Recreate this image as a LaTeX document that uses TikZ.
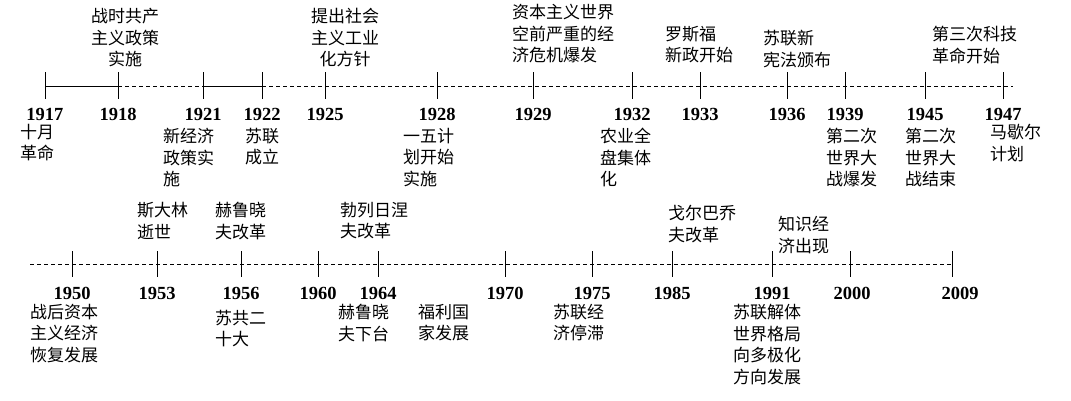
\documentclass[tikz,border=0pt]{standalone}
\usepackage{fontspec}
\setmainfont{Liberation Serif}
\newfontfamily\cjk{Noto Sans CJK SC}
\begin{document}
\begin{tikzpicture}[x=1pt,y=-1pt,
  yr/.style={font=\fontsize{18.5}{18}\selectfont\bfseries},
  lb/.style={font=\cjk\fontsize{17}{21.5}\selectfont,align=left,inner sep=0pt,anchor=north west},
  lbc/.style={font=\cjk\fontsize{17}{21.5}\selectfont,align=center,inner sep=0pt,anchor=north},
  tk/.style={line width=0.9pt},
  dsh/.style={dash pattern=on 4pt off 3pt,line width=0.8pt}]
\useasboundingbox (0,0) rectangle (1071,400);
% top axis
\foreach \n/\x in {a17/45,a18/118,a21/203,a22/262,a25/325,a28/437,a29/533,a32/632,a33/700,a36/787,a39/845,a45/925,a47/1003}{
  \coordinate (\n) at (\x,86);
  \draw[tk] (\x,72) -- (\x,99);}
\coordinate (aend) at (1013,86);
\draw[tk] (a17) -- (a18);
\draw[dsh] (a18) -- (a21);
\draw[tk] (a21) -- (a22);
\draw[dsh] (a22) -- (aend);
\foreach \x/\y in {45/1917,118/1918,203/1921,262/1922,325/1925,437/1928,533/1929,632/1932,700/1933,787/1936,845/1939,925/1945,1003/1947}
  \node[yr] (y\y) at (\x,114) {\y};
% bottom axis
\coordinate (bstart) at (30,264);
\foreach \n/\x in {b50/72,b53/157,b56/241,b60/318,b64/378,b70/505,b75/592,b85/672,b91/772,b00/850,b09/952}{
  \coordinate (\n) at (\x,264);
  \draw[tk] (\x,251) -- (\x,277);}
\draw[dsh] (bstart) -- (b09);
\foreach \x/\y in {72/1950,157/1953,241/1956,318/1960,378/1964,505/1970,592/1975,672/1985,772/1991,852/2000,960/2009}
  \node[yr] (z\y) at (\x,293) {\y};
% top labels above
\node[lbc] (t1) at (125,8) {战时共产\\主义政策\\实施};
\node[lbc] (t2) at (345,8) {提出社会\\主义工业\\化方针};
\node[lb] (t3) at (512,4) {资本主义世界\\空前严重的经\\济危机爆发};
\node[lb] (t4) at (665,26) {罗斯福\\新政开始};
\node[lb] (t5) at (763,30) {苏联新\\宪法颁布};
\node[lb] (t6) at (932,26) {第三次科技\\革命开始};
% top labels below
\node[lb] (u1) at (20,124) {十月\\革命};
\node[lb] (u2) at (163,128) {新经济\\政策实\\施};
\node[lb] (u3) at (245,128) {苏联\\成立};
\node[lb] (u4) at (403,128) {一五计\\划开始\\实施};
\node[lb] (u5) at (600,128) {农业全\\盘集体\\化};
\node[lb] (u6) at (826,128) {第二次\\世界大\\战爆发};
\node[lb] (u7) at (905,128) {第二次\\世界大\\战结束};
\node[lb] (u8) at (990,124) {马歇尔\\计划};
% bottom above
\node[lb] (v1) at (137,202) {斯大林\\逝世};
\node[lb] (v2) at (215,202) {赫鲁晓\\夫改革};
\node[lb] (v3) at (340,202) {勃列日涅\\夫改革};
\node[lb] (v4) at (668,205) {戈尔巴乔\\夫改革};
\node[lb] (v5) at (778,216) {知识经\\济出现};
% bottom below
\node[lb] (w1) at (30,304) {战后资本\\主义经济\\恢复发展};
\node[lb] (w2) at (215,310) {苏共二\\十大};
\node[lb] (w3) at (338,304) {赫鲁晓\\夫下台};
\node[lb] (w4) at (418,304) {福利国\\家发展};
\node[lb] (w5) at (553,304) {苏联经\\济停滞};
\node[lb] (w6) at (733,304) {苏联解体\\世界格局\\向多极化\\方向发展};
\end{tikzpicture}
\end{document}
